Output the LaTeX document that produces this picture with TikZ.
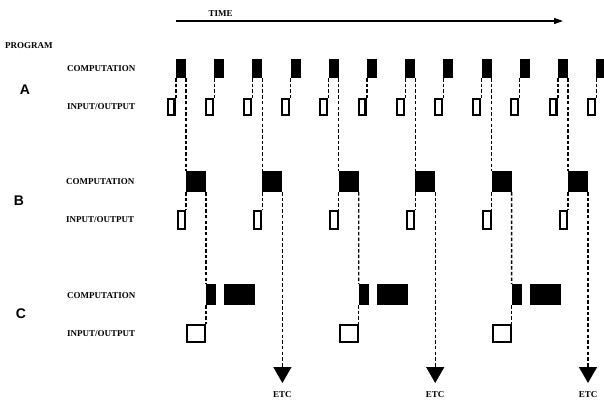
\documentclass[tikz,border=0pt]{standalone}
\usepackage{fontspec}
\setmainfont{Liberation Serif}
\newfontfamily\lsans{Liberation Sans}
\usetikzlibrary{arrows.meta}
\tikzset{
  lab/.style={font=\bfseries\fontsize{9}{10}\selectfont, inner sep=0pt},
  big/.style={font=\lsans\bfseries\fontsize{14}{16}\selectfont, inner sep=0pt},
  comp/.style={fill=black, draw=none, inner sep=0pt, outer sep=0pt, anchor=north west},
  iobox/.style={draw=black, line width=2.1pt, fill=white, inner sep=0pt, anchor=north west},
  dsh/.style={line width=1.3pt, dash pattern=on 3.5pt off 2.2pt},
}
\begin{document}
\begin{tikzpicture}[x=1pt,y=-1pt]
\useasboundingbox (0,0) rectangle (604,400);
% time arrow
\node[lab] (time) at (220.5,14) {TIME};
\coordinate (t0) at (176,21);
\coordinate (t1) at (563,21);
\draw[line width=1.3pt, -{Triangle[width=6pt,length=9pt]}] (t0) -- (t1);
% labels
\node[lab, anchor=west] (prog) at (5,46) {PROGRAM};
\node[big] (lA) at (25,90) {A};
\node[lab, anchor=west] (acl) at (67,69) {COMPUTATION};
\node[lab, anchor=west] (ail) at (67,107) {INPUT/OUTPUT};
\node[big] (lB) at (19,201) {B};
\node[lab, anchor=west] (bcl) at (66,182) {COMPUTATION};
\node[lab, anchor=west] (bil) at (66,220) {INPUT/OUTPUT};
\node[big] (lC) at (21,314) {C};
\node[lab, anchor=west] (ccl) at (67,296) {COMPUTATION};
\node[lab, anchor=west] (cil) at (67,334) {INPUT/OUTPUT};
% program A
\foreach \i in {0,...,11}{
  \node[comp, minimum width=10pt, minimum height=19pt] (ac\i) at ({176+38.2*\i},59) {};
  \node[iobox, minimum width=6.9pt, minimum height=15.9pt] (ai\i) at ({176+38.2*\i-9.5},98) {};
  \draw[dsh] (ac\i.south west) -- (ac\i.south west |- ai\i.north);
}
% program B
\foreach \k in {0,...,5}{
  \pgfmathtruncatemacro{\j}{2*\k}
  \node[comp, minimum width=20pt, minimum height=21pt] (bc\k) at ({186+76.4*\k},171) {};
  \node[iobox, minimum width=7.4pt, minimum height=17.9pt] (bi\k) at ({186+76.4*\k-9.5},210) {};
  \draw[dsh] (ac\j.south east) -- (bc\k.north west);
  \draw[dsh] (bc\k.south west) -- (bc\k.south west |- bi\k.north);
}
% program C
\foreach \m in {0,1,2}{
  \pgfmathtruncatemacro{\k}{2*\m}
  \node[comp, minimum width=10pt, minimum height=21pt] (cc\m) at ({206+152.8*\m},284) {};
  \node[comp, minimum width=31pt, minimum height=21pt] (cb\m) at ({206+152.8*\m+18},284) {};
  \node[iobox, minimum width=17.9pt, minimum height=16.9pt] (ci\m) at ({206+152.8*\m-20},324) {};
  \draw[dsh] (bc\k.south east) -- (cc\m.north west);
  \draw[dsh] (cc\m.south west) -- (cc\m.south west |- ci\m.north);
}
% ETC arrows
\foreach \m in {0,1,2}{
  \pgfmathtruncatemacro{\k}{2*\m+1}
  \coordinate (e\m) at ({206+76.4*(2*\m+1)},383);
  \node[lab] (etc\m) at ({206+76.4*(2*\m+1)},395) {ETC};
  \draw[dsh, -{Triangle[width=18pt,length=16pt]}] (bc\k.south east) -- (e\m);
}
\end{tikzpicture}
\end{document}
